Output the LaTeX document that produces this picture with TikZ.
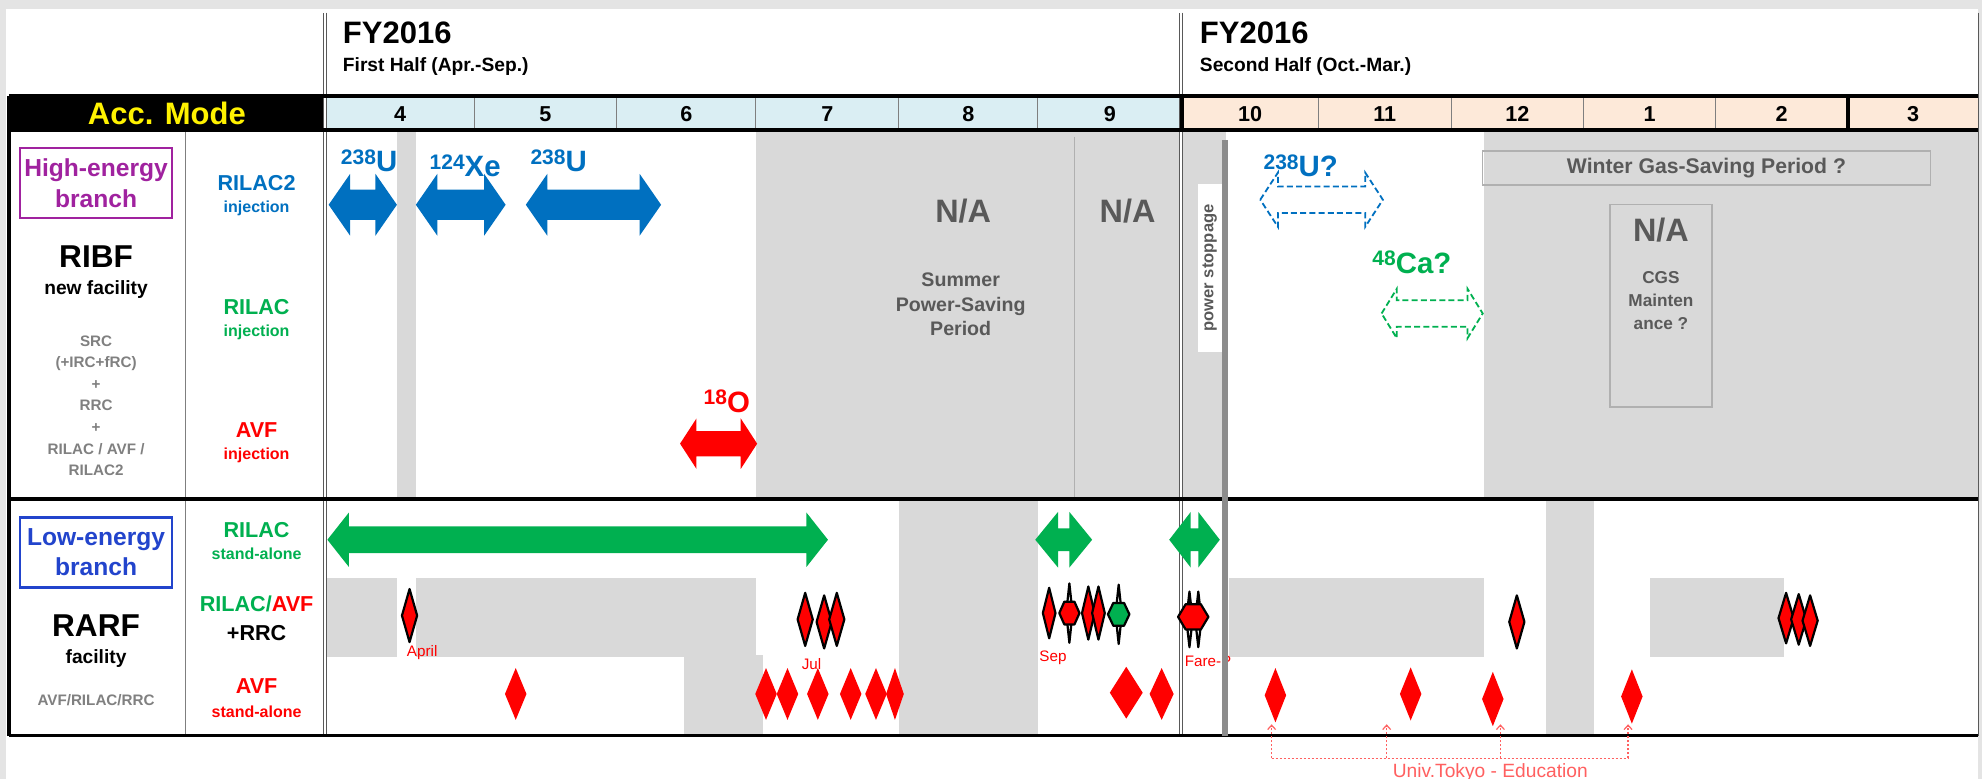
\documentclass[tikz,border=0pt]{standalone}
\usepackage{fontspec}
\setmainfont{Liberation Sans}
\usepackage{tikz}
\usetikzlibrary{arrows.meta}
\definecolor{pagegray}{HTML}{E4E4E4}
\definecolor{offgray}{HTML}{D9D9D9}
\definecolor{linegray}{HTML}{7F7F7F}
\definecolor{labelgray}{HTML}{808080}
\definecolor{nagray}{HTML}{595959}
\definecolor{boxgray}{HTML}{B0B0B0}
\definecolor{stopgray}{HTML}{8C8C8C}
\definecolor{beamblue}{HTML}{0070C0}
\definecolor{beamgreen}{HTML}{00B050}
\definecolor{beamred}{HTML}{FF0000}
\definecolor{hepurple}{HTML}{A0229F}
\definecolor{leblue}{HTML}{2244CC}
\definecolor{firsthalf}{HTML}{DAEEF3}
\definecolor{secondhalf}{HTML}{FDE9D9}
\definecolor{edured}{HTML}{FF6060}
\newcommand{\fs}[2]{\fontsize{#1}{#2}\selectfont}
\newcommand{\iso}[2]{\raisebox{3.8pt}{\fs{10.5}{11}#1}#2}
% block double arrow: style, left, right, centre y, shaft half, head half, head length
\newcommand{\dblarrow}[7]{\path[#1] (#2,#4) -- (#2+#7,#4-#6) -- (#2+#7,#4-#5) -- (#3-#7,#4-#5)
  -- (#3-#7,#4-#6) -- (#3,#4) -- (#3-#7,#4+#6) -- (#3-#7,#4+#5) -- (#2+#7,#4+#5) -- (#2+#7,#4+#6) -- cycle;}
% diamond: style, x, y, width, height
\newcommand{\gem}[5]{\path[#1] (#2,#3-#5/2) -- (#2+#4/2,#3) -- (#2,#3+#5/2) -- (#2-#4/2,#3) -- cycle;}
% hexagon with a spike: style, x, y, width
\newcommand{\spikehex}[4]{\gem{spike}{#2}{#3}{5}{47}
  \path[#1] (#2-#4/2,#3) -- (#2-#4/4,#3-9) -- (#2+#4/4,#3-9) -- (#2+#4/2,#3) -- (#2+#4/4,#3+9) -- (#2-#4/4,#3+9) -- cycle;}

\begin{document}
\begin{tikzpicture}[x=0.632pt,y=-0.632pt,
    every node/.style={inner sep=0pt,font=\bfseries\fs{9.6}{11}},
    offzone/.style={fill=offgray},
    heavyrule/.style={draw=black,line width=1.8pt},
    hairline/.style={draw=linegray,line width=0.5pt},
    halfline/.style={draw=nagray,line width=0.45pt,double=white,double distance=1pt},
    monthnum/.style={font=\bfseries\fs{10.8}{12}},
    modename/.style={font=\bfseries\fs{10.8}{12}},
    modesub/.style={font=\bfseries\fs{8}{9}},
    branchbox/.style={draw=#1,text=#1,line width=1.2pt,minimum width=76pt,minimum height=35pt,
      align=center,font=\bfseries\fs{12.3}{15.2}},
    facility/.style={font=\bfseries\fs{15.8}{17}},
    isolabel/.style={anchor=base,font=\bfseries\fs{14.7}{15}},
    natext/.style={text=nagray,font=\bfseries\fs{16.2}{18}},
    offnote/.style={text=nagray,align=center,font=\bfseries\fs{9.8}{12.3}},
    beam/.style={fill=#1},
    plan/.style={draw=#1,fill=white,line width=0.9pt,dash pattern=on 3pt off 1.6pt},
    shot/.style={fill=#1,draw=black,line width=1.1pt,line join=round},
    spike/.style={fill=white,draw=black,line width=1.1pt,line join=round},
    solo/.style={fill=beamred},
    month/.style={text=beamred,font=\fs{7.6}{8}},
    edu/.style={draw=edured,line width=0.6pt,dash pattern=on 1pt off 1pt}
  ]
  \useasboundingbox (0,0) rectangle (1568,616);
  \fill[pagegray] (0,0) rectangle (1568,616);
  \fill[white] (5,7) rectangle (1565,616);

  \fill[offzone] (314,103) rectangle (329,395);
  \fill[offzone] (598,103) rectangle (970,395);
  \fill[offzone] (1174,103) rectangle (1565,395);
  \fill[offzone] (258,457) rectangle (314,520);
  \fill[offzone] (329,457) rectangle (598,520);
  \fill[offzone] (541,518) rectangle (604,582);
  \fill[offzone] (711,395) rectangle (821,582);
  \fill[offzone] (972,457) rectangle (1174,520);
  \fill[offzone] (1223,395) rectangle (1261,582);
  \fill[offzone] (1305,457) rectangle (1411,520);
  \draw[draw=boxgray,line width=0.5pt] (850,108) -- (850,395);

  \fill[firsthalf] (258,76) rectangle (935,103);
  \fill[secondhalf] (935,76) rectangle (1565,103);
  \fill[black] (7,76) rectangle (258,103);
  \foreach \x in {375,488,598,711,821,1043,1148,1253,1357}
    \draw[hairline] (\x,76) -- (\x,103);
  \foreach \m/\xl/\xr in {4/258/375,5/375/488,6/488/598,7/598/711,8/711/821,9/821/935,
      10/935/1043,11/1043/1148,12/1148/1253,1/1253/1357,2/1357/1462,3/1462/1565}
    \node[monthnum] (month\m) at ({(\xl+\xr)/2},90) {\m};
  \node[text=yellow,font=\bfseries\fs{15.5}{17}] (accmode) at (132,90) {Acc. Mode};

  \draw[hairline] (147,103) -- (147,582);
  \draw[halfline] (257,10) -- (257,582);
  \draw[halfline] (934,10) -- (934,582);
  \draw[draw=nagray,line width=0.6pt] (1565,10) -- (1565,582);
  \draw[heavyrule] (7,76) -- (1565,76);
  \draw[heavyrule] (7,103) -- (1565,103);
  \draw[heavyrule] (935,76) -- (935,103);
  \draw[heavyrule] (1462,76) -- (1462,103);
  \draw[heavyrule] (7,395) -- (1565,395);
  \draw[heavyrule] (7,582) -- (1565,582);
  \draw[heavyrule] (7,76) -- (7,582);

  \node[anchor=west,font=\bfseries\fs{15.5}{17}] (fy1) at (271,26) {FY2016};
  \node[anchor=west] (half1) at (271,53) {First Half (Apr.-Sep.)};
  \node[anchor=west,font=\bfseries\fs{15.5}{17}] (fy2) at (949,26) {FY2016};
  \node[anchor=west] (half2) at (949,53) {Second Half (Oct.-Mar.)};

  \node[branchbox=hepurple] (hebranch) at (76,145) {High-energy\\branch};
  \node[facility] (ribf) at (76,203) {RIBF};
  \node[font=\bfseries\fs{9.6}{11}] (ribfnew) at (76,229) {new facility};
  \node[text=labelgray,align=center,font=\bfseries\fs{7.6}{10.8}] (ribfparts) at (76,321)
    {SRC\\(+IRC+fRC)\\+\\RRC\\+\\RILAC / AVF /\\RILAC2};
  \node[branchbox=leblue] (lebranch) at (76,437) {Low-energy\\branch};
  \node[facility] (rarf) at (76,495) {RARF};
  \node[font=\bfseries\fs{9.6}{11}] (rarfnew) at (76,521) {facility};
  \node[text=labelgray,font=\bfseries\fs{7.6}{9}] (rarfparts) at (76,554) {AVF/RILAC/RRC};

  \node[modename,text=beamblue] (rilactwo) at (203,145) {RILAC2};
  \node[modesub,text=beamblue] (rilactwoinj) at (203,165) {injection};
  \node[modename,text=beamgreen] (rilac) at (203,243) {RILAC};
  \node[modesub,text=beamgreen] (rilacinj) at (203,263) {injection};
  \node[modename,text=beamred] (avf) at (203,340) {AVF};
  \node[modesub,text=beamred] (avfinj) at (203,360) {injection};
  \node[modename,text=beamgreen] (rilacsa) at (203,419) {RILAC};
  \node[modesub,text=beamgreen] (rilacsasub) at (203,438) {stand-alone};
  \node[modename] (rilacavf) at (203,478) {\textcolor{beamgreen}{RILAC/}\textcolor{beamred}{AVF}};
  \node[modename] (rrc) at (203,501) {+RRC};
  \node[modename,text=beamred] (avfsa) at (203,543) {AVF};
  \node[modesub,text=beamred] (avfsasub) at (203,563) {stand-alone};

  \node[natext] (nasummer) at (762,167) {N/A};
  \node[offnote] (summer) at (760,241) {Summer\\Power-Saving\\Period};
  \node[natext] (naseptember) at (892,167) {N/A};
  \node[draw=boxgray,line width=0.7pt,minimum width=224pt,minimum height=17pt,text=nagray,
    font=\bfseries\fs{10.6}{12}] (winter) at (1350,133) {Winter Gas-Saving Period ?};
  \node[draw=boxgray,line width=0.6pt,minimum width=51pt,minimum height=101pt] (cgsbox) at (1314,242) {};
  \node[natext] (nawinter) at (1314,182) {N/A};
  \node[offnote,font=\bfseries\fs{8.6}{11.4}] (cgs) at (1314,238) {CGS\\Mainten\\ance ?};

  \node[fill=white,minimum width=12pt,minimum height=84pt] (stopbox) at (957,212) {};
  \node[rotate=90,text=nagray,font=\bfseries\fs{8.3}{9}] (stoplabel) at (957,212) {power stoppage};

  \dblarrow{beam=beamblue}{260}{314}{162}{12}{24.5}{17}
  \dblarrow{beam=beamblue}{329}{400}{162}{12}{24.5}{17}
  \dblarrow{beam=beamblue}{416}{523}{162}{12}{24.5}{17}
  \node[isolabel,text=beamblue] (uone) at (292,136) {\iso{238}{U}};
  \node[isolabel,text=beamblue] (xe) at (368,140) {\iso{124}{Xe}};
  \node[isolabel,text=beamblue] (utwo) at (442,136) {\iso{238}{U}};
  \dblarrow{beam=beamred}{538}{599}{351}{10}{20}{13}
  \node[isolabel,text=beamred] (oxygen) at (575,326) {\iso{18}{O}};
  \dblarrow{plan=beamblue}{997}{1094}{158}{10.5}{21.5}{14}
  \node[isolabel,text=beamblue] (uthree) at (1029,140) {\iso{238}{U?}};
  \dblarrow{plan=beamgreen}{1093}{1173}{248}{10.5}{19.5}{12}
  \node[isolabel,text=beamgreen] (calcium) at (1117,216) {\iso{48}{Ca?}};

  \dblarrow{beam=beamgreen}{259}{655}{427}{10.5}{21.5}{17}
  \dblarrow{beam=beamgreen}{819}{864}{427}{9}{22}{18}
  \dblarrow{beam=beamgreen}{925}{965}{427}{9}{22}{17}

  \gem{shot=beamred}{324}{487}{12}{42}
  \gem{shot=beamred}{637}{490}{12}{42}
  \gem{shot=beamred}{652}{492}{12}{42}
  \gem{shot=beamred}{662}{490}{12}{42}
  \gem{shot=beamred}{830}{485}{10}{40}
  \spikehex{shot=beamred}{846}{485}{16}
  \gem{shot=beamred}{861}{485}{10}{42}
  \gem{shot=beamred}{869}{485}{10}{42}
  \spikehex{shot=beamgreen}{885}{486}{17}
  \gem{spike}{941}{490}{5}{44}
  \gem{spike}{948}{490}{5}{44}
  \path[shot=beamred] (932,488) -- (938,478) -- (950,478) -- (956,488) -- (950,498) -- (938,498) -- cycle;
  \gem{shot=beamred}{1200}{492}{12}{42}
  \gem{shot=beamred}{1413}{489}{12}{40}
  \gem{shot=beamred}{1423}{490}{12}{40}
  \gem{shot=beamred}{1432}{491}{12}{40}
  \node[month] (april) at (334,516) {April};
  \node[month] (july) at (642,525) {Jul};
  \node[month] (september) at (833,520) {Sep};
  \node[month,anchor=west] (farep) at (937,523) {Fare-P};

  \foreach \x in {408,606,623,647,673,693} {
    \gem{solo}{\x}{549}{17}{41}
  }
  \gem{solo}{708}{549}{14}{41}
  \gem{solo}{891}{548}{26}{41}
  \gem{solo}{919}{549}{19}{41}
  \gem{solo}{1009}{550}{17}{43}
  \gem{solo}{1116}{549}{17}{42}
  \gem{solo}{1181}{553}{17}{43}
  \gem{solo}{1291}{551}{17}{43}

  \draw[draw=stopgray,line width=2.8pt] (969,111) -- (969,582);

  \foreach \n/\x in {1/1006,2/1097,3/1187,4/1288} {
    \coordinate (edubase\n) at (\x,600);
    \coordinate (edutip\n) at (\x,573);
    \draw[edu,-{Straight Barb[length=2.2pt,width=4pt]}] (edubase\n) -- (edutip\n);
  }
  \draw[edu] (edubase1) -- (edubase4);
  \node[anchor=north,text=edured,font=\fs{9.6}{11}] (education) at (1179,604) {Univ.Tokyo - Education};
\end{tikzpicture}
\end{document}
